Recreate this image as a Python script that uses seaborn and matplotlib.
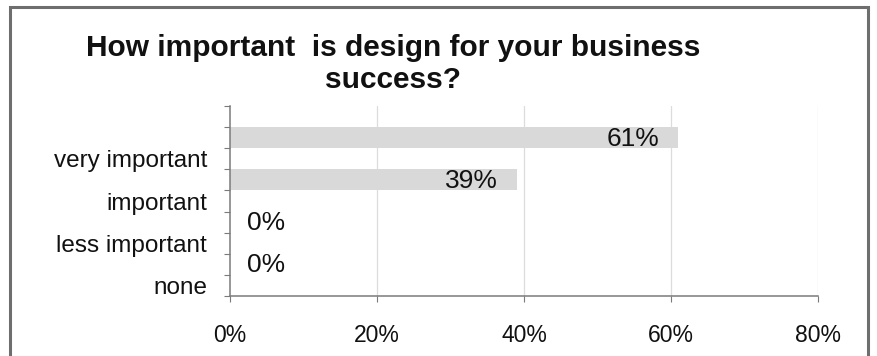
import matplotlib
matplotlib.use("Agg")
import matplotlib.pyplot as plt
from matplotlib.patches import Rectangle
from matplotlib.ticker import FuncFormatter
import numpy as np
import pandas as pd
import seaborn as sns

# Survey answers and their shares (percent)
categories = ["very important", "important", "less important", "none"]
shares = [61, 39, 0, 0]
x_ticks = [0, 20, 40, 60, 80]
title_lines = ["How important  is design for your business", "success?"]

df = pd.DataFrame({"answer": categories, "share": shares})

sns.set_theme(style="white")
plt.rcParams["font.family"] = ["Liberation Sans", "DejaVu Sans"]

W, H = 878, 356
fig = plt.figure(figsize=(W / 100, H / 100), dpi=100)
fig.patch.set_facecolor("white")

ax = fig.add_axes([230 / W, 60 / H, (818 - 230) / W, 236 / H - 46 / H])

# vertical gridlines behind the bars
for v in x_ticks[1:]:
    ax.axvline(v, color="#dcdcdc", lw=0.9, zorder=0)

sns.barplot(data=df, x="share", y="answer", order=categories, orient="h",
            color="#d9d9d9", width=0.5, saturation=1, ax=ax, zorder=2,
            edgecolor="none")

ax.set_xlim(0, 80)
ax.set_ylim(3.75, -0.75)
ax.set_xticks(x_ticks)
ax.xaxis.set_major_formatter(FuncFormatter(lambda v, p: f"{int(v)}%"))
ax.tick_params(axis="x", which="major", bottom=True, direction="out", length=4.5,
               width=0.8, color="#7a7a7a", labelsize=16.5, labelcolor="#111111",
               pad=15.5)

# category labels sit between the tick marks, tick marks at every half step
ax.set_yticks(np.arange(-0.75, 3.76, 0.5))
ax.set_yticklabels([])
ax.set_yticks(np.arange(len(categories)) + 0.5, minor=True)
ax.set_yticklabels(categories, minor=True)
ax.tick_params(axis="y", which="major", left=True, direction="out", length=4.5,
               width=0.8, color="#7a7a7a")
ax.tick_params(axis="y", which="minor", left=True, length=0, labelsize=17.5,
               labelcolor="#111111", pad=16.5)

ax.set_xlabel("")
ax.set_ylabel("")
for side in ["top", "right"]:
    ax.spines[side].set_visible(False)
for side in ["left", "bottom"]:
    ax.spines[side].set_color("#7a7a7a")
    ax.spines[side].set_linewidth(1.1)
ax.grid(False)

# value labels: inside the end of long bars, just right of the axis for empty ones
for i, v in enumerate(shares):
    if v > 5:
        ax.annotate(f"{v}%", xy=(v, i), xytext=(-19, -1), textcoords="offset pixels",
                    ha="right", va="center", fontsize=19, color="#111111", zorder=3)
    else:
        ax.annotate(f"{v}%", xy=(v, i), xytext=(17, -1), textcoords="offset pixels",
                    ha="left", va="center", fontsize=19, color="#111111", zorder=3)

# two-line bold title
fig.text(393 / W, 1 - 56 / H, title_lines[0], ha="center", va="baseline",
         fontsize=21.5, fontweight="bold", color="#111111")
fig.text(393 / W, 1 - 88 / H, title_lines[1], ha="center", va="baseline",
         fontsize=21.5, fontweight="bold", color="#111111")

# chart frame
fig.add_artist(Rectangle((10 / W, -0.1), (868 - 10) / W, 1.1 - 7 / H,
                         transform=fig.transFigure, fill=False,
                         edgecolor="#6e6e6e", lw=2.2))

fig.savefig("out.png", dpi=100)
